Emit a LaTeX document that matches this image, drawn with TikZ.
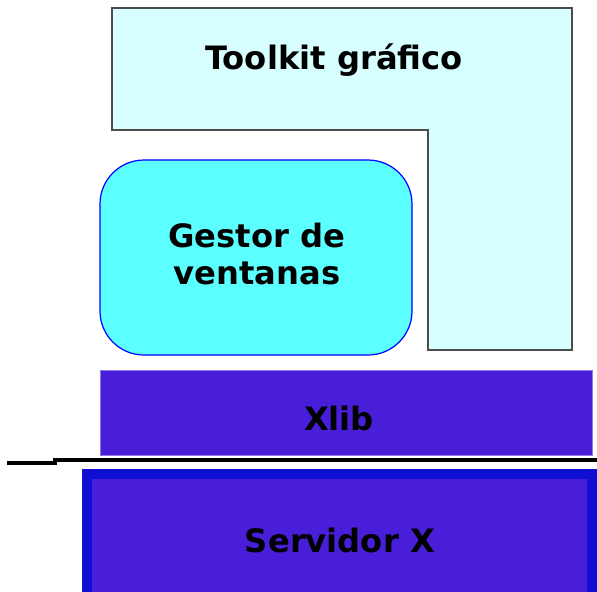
\documentclass[tikz,border=0pt]{standalone}
\usepackage{fontspec}
\setmainfont{DejaVu Sans}
\definecolor{toolkitfill}{RGB}{216,255,255}
\definecolor{gestorfill}{RGB}{92,255,255}
\definecolor{capafill}{RGB}{72,30,217}
\definecolor{capaborde}{RGB}{16,16,212}
\tikzset{
  etiqueta/.style={font=\bfseries\fontsize{16.1}{18.5}\selectfont, text=black, align=center},
  capa/.style={draw=capafill!60!white, line width=0.5pt, fill=capafill, inner sep=0pt}
}
\begin{document}
\begin{tikzpicture}[x=0.5pt,y=-0.5pt]
\useasboundingbox (0,0) rectangle (597,591);
% toolkit en forma de L
\filldraw[draw=black!70, line width=1pt, fill=toolkitfill]
  (112,8)--(572,8)--(572,350)--(428,350)--(428,130)--(112,130)--cycle;
\node[etiqueta] (toolkit) at (334,60) {Toolkit gráfico};
% gestor de ventanas
\node[draw=blue, line width=0.6pt, fill=gestorfill, rounded corners=22pt,
  minimum width=156pt, minimum height=97.5pt] (gestor) at (256,257.5) {};
\node[etiqueta] (gestortxt) at (257,254) {Gestor de\\ventanas};
% capas inferiores
\node[capa, minimum width=246pt, minimum height=42.5pt] (xlib) at (346,412.5) {};
\node[etiqueta] (xlibtxt) at (339,418) {Xlib};
\draw[line width=2pt] (7,463)--(55,463)--(55,459.5)--(597,459.5);
\node[draw=capaborde, line width=5pt, fill=capafill, inner sep=0pt,
  minimum width=252.5pt, minimum height=63pt] (servidor) at (339.5,537) {};
\node[etiqueta] (servidortxt) at (340,540) {Servidor X};
\end{tikzpicture}
\end{document}
